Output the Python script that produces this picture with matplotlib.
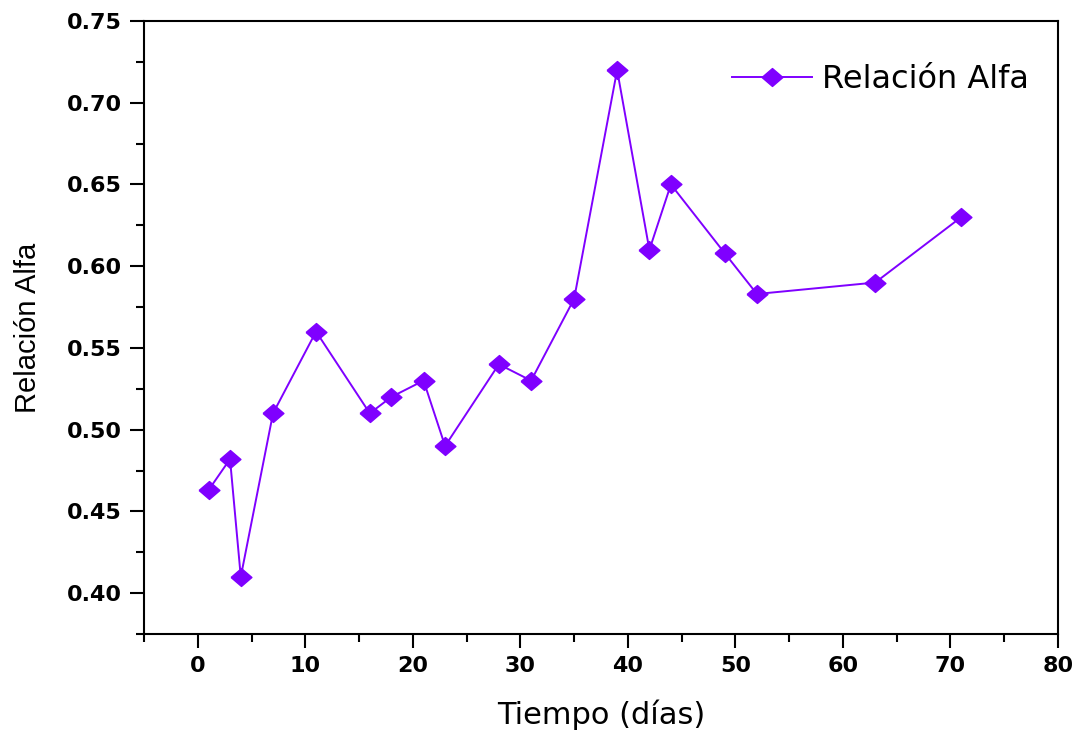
import matplotlib
matplotlib.use("Agg")
import matplotlib.pyplot as plt
from matplotlib.ticker import MultipleLocator

dias = [1, 3, 4, 7, 11, 16, 18, 21, 23, 28, 31, 35, 39, 42, 44, 49, 52, 63, 71]
relacion_alfa = [0.463, 0.482, 0.410, 0.510, 0.560, 0.510, 0.520, 0.530, 0.490,
                 0.540, 0.530, 0.580, 0.720, 0.610, 0.650, 0.608, 0.583, 0.590, 0.630]
x_ticks = [0, 10, 20, 30, 40, 50, 60, 70, 80]
y_ticks = [0.40, 0.45, 0.50, 0.55, 0.60, 0.65, 0.70, 0.75]

plt.rcParams['font.family'] = ['DejaVu Sans']

W, H = 1078, 734
fig = plt.figure(figsize=(W / 100, H / 100), dpi=100)
left, right, top, bottom = 144, 1058, 21, 634
ax = fig.add_axes([left / W, 1 - bottom / H, (right - left) / W, (bottom - top) / H])

color = '#7F00FF'
wide_diamond = [(-1, 0), (0, 0.86), (1, 0), (0, -0.86), (-1, 0)]
ax.plot(dias, relacion_alfa, color=color, lw=1.4, marker=wide_diamond, markersize=15,
        markerfacecolor=color, markeredgecolor=color, label='Relación Alfa')

ax.set_xlim(-5, 80)
ax.set_ylim(0.375, 0.75)
ax.set_xticks(x_ticks)
ax.set_yticks(y_ticks)
ax.xaxis.set_minor_locator(MultipleLocator(5))
ax.yaxis.set_minor_locator(MultipleLocator(0.025))
ax.set_yticklabels([f'{v:.2f}' for v in y_ticks], fontsize=16, fontweight='bold')
ax.set_xticklabels([str(v) for v in x_ticks], fontsize=16, fontweight='bold')

ax.tick_params(which='major', direction='out', length=10, width=1.5, pad=6)
ax.tick_params(which='minor', direction='out', length=6, width=1.5)
ax.tick_params(top=False, right=False, which='both')
for s in ax.spines.values():
    s.set_linewidth(1.5)

ax.set_xlabel('Tiempo (días)', fontsize=22, labelpad=17)
ax.set_ylabel('Relación Alfa', fontsize=21, labelpad=18,
              family=['Liberation Sans', 'DejaVu Sans'])

ax.legend(loc='center right', frameon=False, fontsize=23, handlelength=2.5,
          handletextpad=0.3, borderpad=0, borderaxespad=0,
          bbox_to_anchor=(0.968, 0.905))

fig.savefig('out.png', dpi=100)
